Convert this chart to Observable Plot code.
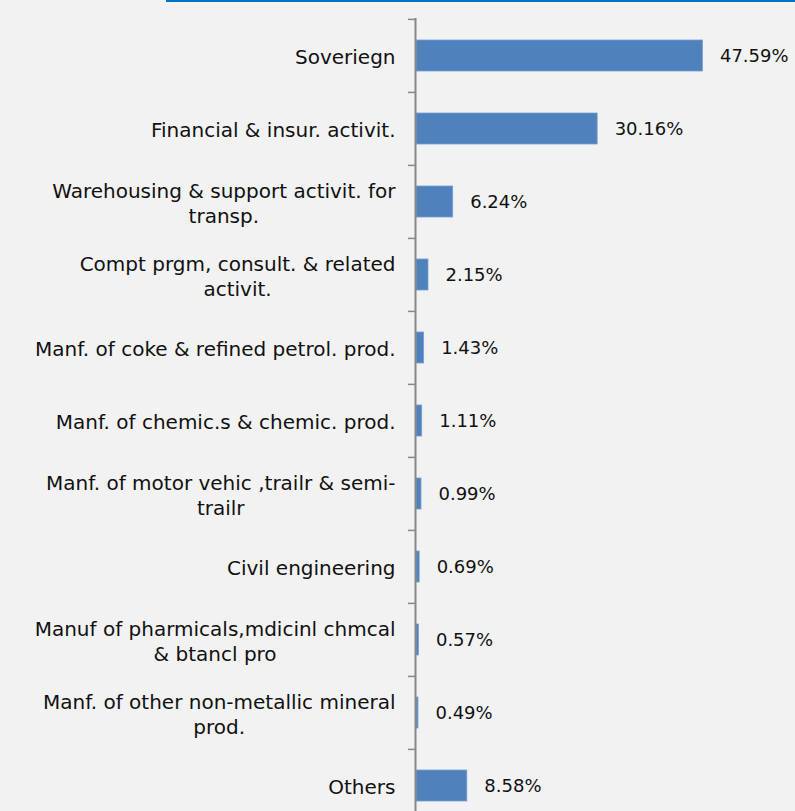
<!DOCTYPE html>
<html><head><meta charset="utf-8">
<script src="https://cdn.jsdelivr.net/npm/d3@7"></script>
<script src="https://cdn.jsdelivr.net/npm/@observablehq/plot@0.6"></script>
<style>
  html, body { margin: 0; padding: 0; background: #F2F2F2; overflow: hidden; }
  #wrap { position: relative; width: 795px; height: 811px; }
  #topline { position: absolute; left: 166px; top: 0; width: 629px; height: 2px; background: #0070C0; }
</style>
</head>
<body>
<div id="wrap"><div id="topline"></div></div>
<script>
const categories = [
  "Soveriegn",
  "Financial & insur. activit.",
  "Warehousing & support activit. for\ntransp.",
  "Compt prgm, consult. & related\nactivit.",
  "Manf. of coke & refined petrol. prod.",
  "Manf. of chemic.s & chemic. prod.",
  "Manf. of motor vehic ,trailr & semi-\ntrailr",
  "Civil engineering",
  "Manuf of pharmicals,mdicinl chmcal\n& btancl pro",
  "Manf. of other non-metallic mineral\nprod.",
  "Others"
];
const values = [47.59, 30.16, 6.24, 2.15, 1.43, 1.11, 0.99, 0.69, 0.57, 0.49, 8.58];

const data = categories.map((c, i) => ({category: c, value: values[i]}));

const step = 73.2;
const top0 = 18;

const chart = Plot.plot({
  width: 795,
  height: 811,
  marginLeft: 415,
  marginRight: 0,
  marginTop: top0,
  marginBottom: 0,
  style: {background: "#F2F2F2", fontFamily: "DejaVu Sans", color: "#111", overflow: "visible"},
  x: {domain: [0, 60], range: [415, 415 + 60 * 6.04], axis: null},
  y: {domain: categories, range: [top0, top0 + step * categories.length], paddingInner: 0.576, paddingOuter: 0.288, label: null},
  marks: [
    Plot.barX(data, {x: "value", y: "category", fill: "#4F81BD", stroke: "#7A9FD0", strokeWidth: 0.8, insetLeft: 1}),
    Plot.ruleX([0], {stroke: "#888888", strokeWidth: 2}),
    Plot.axisY({tickSize: 7, tickFormat: null, dy: -step / 2, stroke: "#888888", strokeWidth: 1.5}),
    Plot.axisY({tickSize: 0, tickPadding: 20, fontSize: 20, lineHeight: 1.25, fill: "#111", label: null}),
    Plot.text(data, {x: "value", y: "category", text: d => d.value.toFixed(2) + "%", textAnchor: "start", dx: 17, fontSize: 18, fill: "#111"})
  ]
});

document.getElementById("wrap").appendChild(chart);

// center wrapped lines of multi-line category labels on their widest line (right-aligned block)
chart.querySelectorAll('g[aria-label="y-axis tick label"] text').forEach(t => {
  const spans = t.querySelectorAll("tspan");
  if (spans.length < 2) return;
  let maxW = 0;
  spans.forEach(s => { maxW = Math.max(maxW, s.getComputedTextLength()); });
  t.setAttribute("text-anchor", "middle");
  spans.forEach(s => {
    const x0 = parseFloat(s.getAttribute("x") || "0");
    s.setAttribute("x", x0 - maxW / 2);
  });
});
</script>
</body></html>
